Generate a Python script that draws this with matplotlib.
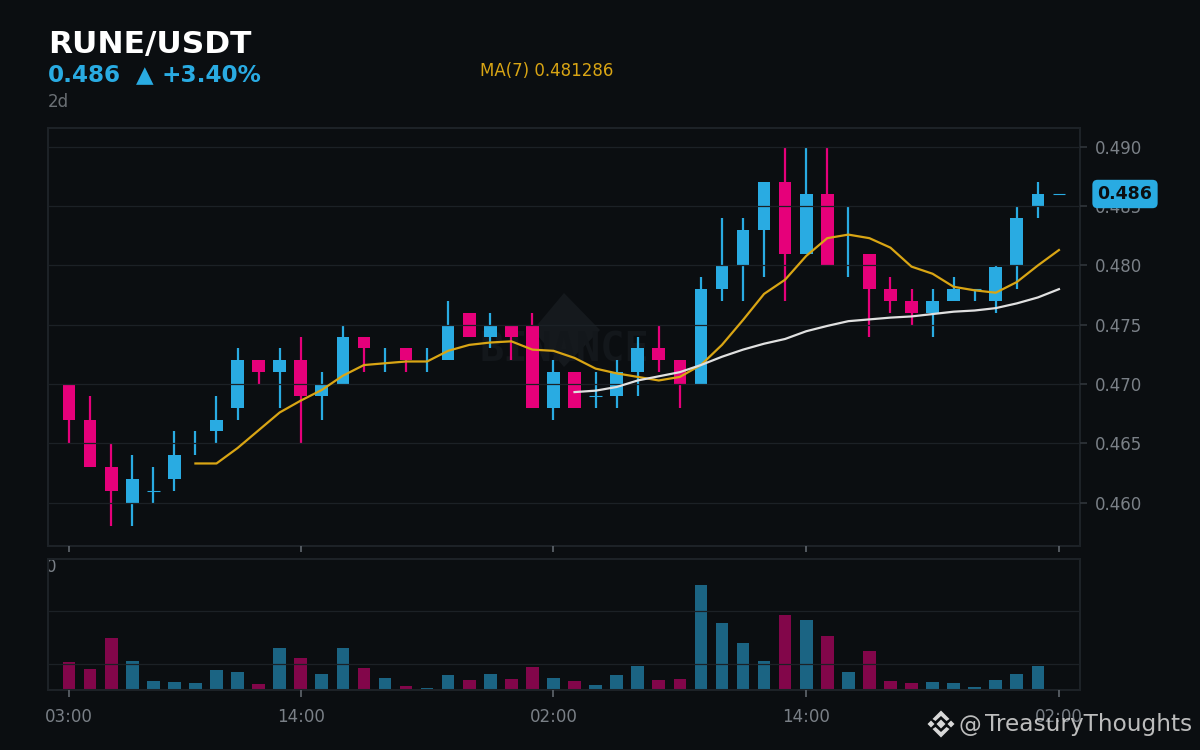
import numpy as np
import matplotlib
matplotlib.use('Agg')
import matplotlib.pyplot as plt
from matplotlib.patches import Polygon

# --- Data ---
# nan open/close means the candle was drawn as a bare wick in the reference
opens = [.470, .467, .463, .460, .461, .462, np.nan, .466, .468, .472, .471, .472, .469, .470, .474, np.nan,
         .473, np.nan, .472, .476, .474, .475, .475, .468, .471, .469, .469, .471, .473, .472, .470, .478,
         .480, .483, .487, .481, .486, np.nan, .481, .478, .477, .476, .477, .478, .477, .480, .485, .486]
closes = [.467, .463, .461, .462, .461, .464, np.nan, .467, .472, .471, .472, .469, .470, .474, .473, np.nan,
          .472, np.nan, .4749, .474, .475, .474, .468, .471, .468, .469, .471, .473, .472, .470, .478, .480,
          .483, .487, .481, .486, .480, np.nan, .478, .477, .476, .477, .478, .478, .4799, .484, .486, .486]
highs = [.470, .469, .465, .464, .463, .466, .466, .469, .473, .472, .473, .474, .471, .475, .474, .473,
         .473, .473, .477, .476, .476, .475, .476, .472, .471, .471, .472, .474, .475, .472, .479, .484,
         .484, .487, .490, .490, .490, .485, .481, .479, .478, .478, .479, .478, .480, .485, .487, .486]
lows = [.465, .463, .458, .458, .460, .461, .464, .465, .467, .470, .468, .465, .467, .470, .471, .471,
        .471, .471, .472, .474, .473, .472, .468, .467, .468, .468, .468, .469, .471, .468, .470, .477,
        .477, .479, .477, .481, .480, .479, .474, .476, .475, .474, .477, .477, .476, .478, .484, .486]
is_up = [0, 0, 0, 1, 1, 1, 1, 1, 1, 0, 1, 0, 1, 1, 0, 1,
         0, 1, 1, 0, 1, 0, 0, 1, 0, 1, 1, 1, 0, 0, 1, 1,
         1, 1, 0, 1, 0, 1, 0, 0, 0, 1, 1, 1, 1, 1, 1, 1]
volumes = [108, 81, 200, 112, 35, 31, 27, 77, 69, 23, 162, 123, 62, 162, 85, 46,
           15, 6, 58, 38, 62, 42, 88, 46, 35, 19, 58, 92, 38, 42, 400, 254,
           181, 112, 285, 269, 208, 69, 150, 35, 27, 31, 27, 12, 38, 62, 92, 1]
ma7 = [.4633, .4633, .4646, .4661, .4676, .4686, .4695, .4707, .4716, .47175, .4719, .4719, .4728, .4733,
       .4735, .4736, .4729, .4728, .4722, .4713, .4709, .4706, .4703, .4706, .4716, .4733, .4754, .4776,
       .4788, .4808, .4823, .4826, .4823, .4815, .4799, .4793, .4782, .4779, .4777, .4786, .4800, .4813]
ma25 = [.46932, .46944, .46975, .4703, .47065, .4710, .4716, .4723, .4729, .4734, .4738, .47445, .4749,
        .4753, .47545, .4756, .4757, .4759, .4761, .4762, .4764, .4768, .4773, .4780]
price_ticks = [.460, .465, .470, .475, .480, .485, .490]
time_ticks = [0, 11, 23, 35, 47]
time_labels = ['03:00', '14:00', '02:00', '14:00', '02:00']
volume_ticks = [100, 300]

# --- Style ---
BG = '#0b0e11'
BLUE = '#29abe2'
PINK = '#e6007a'
GOLD = '#d9a514'
WHITE_LINE = '#e0e0e0'
GRID = '#1c2126'
SPINE = '#1d2227'
MUTED = '#7a8087'
BODY_WIDTH = 0.6
W, H = 1200, 750


def px_axes(fig, left, top, right, bottom):
    """Adds an axes placed by pixel edges, with y counted from the top."""
    return fig.add_axes([left / W, 1 - bottom / H, (right - left) / W, (bottom - top) / H])


def px_xy(points):
    """Converts pixel points (y from the top) to figure fractions."""
    return [(x / W, 1 - y / H) for x, y in points]


def style_axes(ax):
    ax.set_facecolor('none')
    ax.set_xlim(-1, 48)
    ax.set_axisbelow(False)
    ax.grid(True, axis='y', color=GRID, linewidth=0.9)
    for spine in ax.spines.values():
        spine.set_color(SPINE)
        spine.set_linewidth(1.5)
    ax.set_xticks(time_ticks)


def draw_watermark(fig):
    # dark Binance diamond and word behind the candles
    fig.patches.append(Polygon(px_xy([(564, 293), (600, 330), (564, 367), (533, 330)]),
                               closed=True, transform=fig.transFigure, facecolor='#15191d',
                               edgecolor='none', zorder=-2))
    fig.text(564 / W, 1 - 350 / H, 'BINANCE', family='DejaVu Sans Mono', fontweight='bold', fontsize=29,
             color='#13171b', ha='center', va='center', zorder=-1)


def draw_logo(fig, cx, cy):
    shapes = [
        [(0, -4.5), (4.5, 0), (0, 4.5), (-4.5, 0)],
        [(-13.5, 0), (-10, -3.5), (-6.5, 0), (-10, 3.5)],
        [(13.5, 0), (10, -3.5), (6.5, 0), (10, 3.5)],
        [(0, -13.5), (8.5, -5), (5.5, -3), (0, -8), (-5.5, -3), (-8.5, -5)],
        [(0, 13.5), (8.5, 5), (5.5, 3), (0, 8), (-5.5, 3), (-8.5, 5)],
    ]
    for shape in shapes:
        pts = [(cx + dx, cy + dy) for dx, dy in shape]
        fig.patches.append(Polygon(px_xy(pts), closed=True, transform=fig.transFigure,
                                   facecolor='#d8d8d8', edgecolor='none', zorder=5))


def draw_candles(ax):
    x = np.arange(len(highs))
    colors = [BLUE if up else PINK for up in is_up]
    o = np.array(opens)
    c = np.array(closes)

    ax.vlines(x, lows, highs, colors=colors, linewidth=1.6, zorder=2)

    has_body = ~np.isnan(o)
    flat = has_body & (o == c)
    solid = has_body & ~flat
    ax.bar(x[solid], np.abs(o - c)[solid], bottom=np.minimum(o, c)[solid], width=BODY_WIDTH,
           color=[col for col, s in zip(colors, solid) if s], linewidth=0, zorder=2)
    # flat candles only get a thin dash
    ax.hlines(o[flat], x[flat] - BODY_WIDTH / 2, x[flat] + BODY_WIDTH / 2,
              colors=[col for col, s in zip(colors, flat) if s], linewidth=0.8, zorder=2)

    ax.plot(x[6:], ma7, color=GOLD, linewidth=1.6, zorder=3)
    ax.plot(x[24:], ma25, color=WHITE_LINE, linewidth=1.6, zorder=3)


def main():
    fig = plt.figure(figsize=(12, 7.5), dpi=100, facecolor=BG)

    draw_watermark(fig)
    # sliver of a hidden label peeking out left of the volume panel
    fig.text(51.5 / W, 1 - 567 / H, '0', fontsize=12, color=MUTED, ha='center', va='center', zorder=-1)

    ax = px_axes(fig, 48, 128, 1080, 546)
    style_axes(ax)
    ax.set_ylim(.45634, .49159)
    ax.yaxis.tick_right()
    ax.set_yticks(price_ticks)
    ax.set_yticklabels([f'{t:.3f}' for t in price_ticks])
    ax.tick_params(axis='y', length=5, width=1.2, color='#30353b', labelcolor=MUTED, labelsize=12, pad=6)
    ax.tick_params(axis='x', length=4.5, width=1.2, color='#60666d', labelbottom=False)
    draw_candles(ax)

    ax_vol = px_axes(fig, 48, 559, 1080, 690)
    ax_vol.set_facecolor(BG)
    style_axes(ax_vol)
    ax_vol.set_ylim(0, 500)
    ax_vol.set_yticks(volume_ticks)
    ax_vol.set_xticklabels(time_labels)
    ax_vol.tick_params(axis='y', length=0, labelleft=False)
    ax_vol.tick_params(axis='x', length=5, width=1.2, color='#60666d', labelcolor=MUTED, labelsize=12, pad=8)
    ax_vol.bar(np.arange(len(volumes)), volumes, width=BODY_WIDTH,
               color=[BLUE if up else PINK for up in is_up], alpha=0.55, linewidth=0, zorder=2)

    # header
    fig.text(48 / W, 1 - 44 / H, 'RUNE/USDT', fontsize=22.5, fontweight='bold', color='white', va='center')
    fig.text(48 / W, 1 - 76 / H, '0.486', fontsize=16.7, fontweight='bold', color=BLUE, va='center')
    fig.text(136 / W, 1 - 76 / H, '▲', fontsize=16.5, fontweight='bold', color=BLUE, va='center')
    fig.text(162 / W, 1 - 76 / H, '+3.40%', fontsize=16.7, fontweight='bold', color=BLUE, va='center')
    fig.text(48 / W, 1 - 102 / H, '2d', fontsize=12, color='#6b7075', va='center')
    fig.text(480 / W, 1 - 71 / H, 'MA(7) 0.481286', fontsize=12, color=GOLD, va='center')

    # last price pill sits on top of the axis labels
    fig.text(1125 / W, 1 - 194 / H, '0.486', fontsize=12.5, fontweight='bold', color='#0b0e11',
             ha='center', va='center', zorder=6,
             bbox=dict(boxstyle='round,pad=0.3,rounding_size=0.3', facecolor=BLUE, edgecolor='none'))

    draw_logo(fig, 941, 724)
    fig.text(959 / W, 1 - 725 / H, '@', fontsize=16.4, color='#d0d0d0', alpha=0.9,
             ha='left', va='center', zorder=5)
    fig.text(985 / W, 1 - 725 / H, 'TreasuryThoughts', fontsize=16.7, color='#d0d0d0', alpha=0.9,
             ha='left', va='center', zorder=5)

    fig.savefig('out.png', dpi=100, facecolor=BG)
    plt.close(fig)


if __name__ == "__main__":
    main()
